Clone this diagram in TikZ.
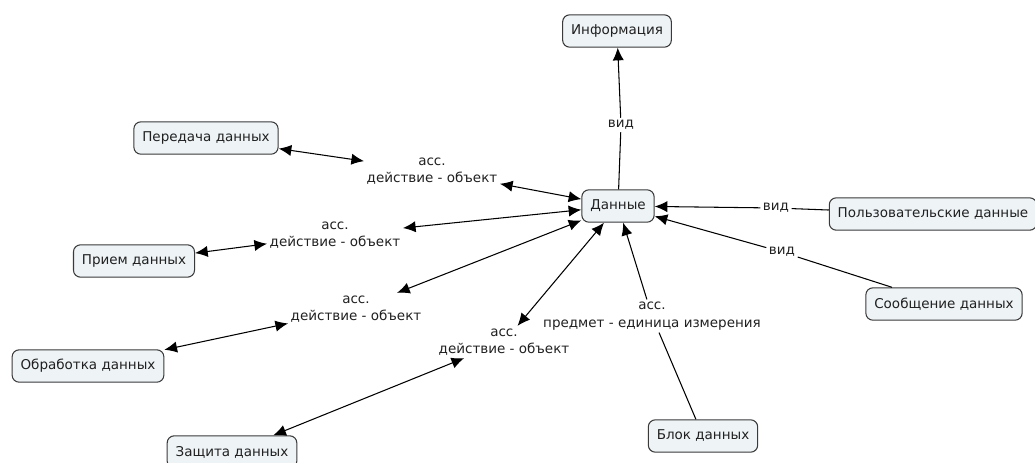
\documentclass[tikz,border=0pt]{standalone}
\usepackage{fontspec}
\setmainfont{DejaVu Sans}
\usetikzlibrary{arrows.meta}
\definecolor{boxfill}{HTML}{EEF3F6}
\definecolor{boxline}{HTML}{3A3A3A}
\definecolor{txt}{HTML}{202020}
\begin{document}
\begin{tikzpicture}[x=0.025cm,y=-0.025cm,
  concept/.style={draw=boxline,fill=boxfill,rounded corners=5pt,inner xsep=6pt,
    minimum height=23pt,text=txt,font=\fontsize{9.6}{11}\selectfont},
  link/.style={align=center,inner sep=1.5pt,text=txt,font=\fontsize{9.6}{12.5}\selectfont},
  >={Latex[length=9pt,width=8pt]},line width=0.75pt]
\useasboundingbox (0,0) rectangle (1035,462);
% concepts
\node[concept] (info) at (617,31) {Информация};
\node[concept] (data) at (618,206) {Данные};
\node[concept] (send) at (206,138) {Передача данных};
\node[concept] (recv) at (134,261) {Прием данных};
\node[concept] (proc) at (88,366) {Обработка данных};
\node[concept] (prot) at (232,452) {Защита данных};
\node[concept] (block) at (703,436) {Блок данных};
\node[concept] (msg) at (944,304) {Сообщение данных};
\node[concept] (user) at (933,214) {Пользовательские данные};
% links
\node[link] (v1) at (621,125) {вид};
\node[link] (v2) at (776,208) {вид};
\node[link] (v3) at (782,252) {вид};
\node[link] (a1) at (432,171) {асс.\\действие - объект};
\node[link] (a2) at (335,235) {асс.\\действие - объект};
\node[link] (a3) at (356,309) {асс.\\действие - объект};
\node[link] (a4) at (504,342) {асс.\\действие - объект};
\node[link] (a5) at (652,316) {асс.\\предмет - единица измерения};
% connectors
\draw (data) -- (v1);
\draw[->] (v1) -- (info);
\draw[<->] (send) -- (a1);
\draw[<->] (a1) -- (data);
\draw[<->] (recv) -- (a2);
\draw[<->] (a2) -- (data);
\draw[<->] (proc) -- (a3);
\draw[<->] (a3) -- (data);
\draw[<->] (prot) -- (a4);
\draw[<->] (a4) -- (data);
\draw (block) -- (a5);
\draw[->] (a5) -- (data);
\draw (user) -- (v2);
\draw[->] (v2) -- (data);
\draw (msg) -- (v3);
\draw[->] (v3) -- (data);
\end{tikzpicture}
\end{document}
